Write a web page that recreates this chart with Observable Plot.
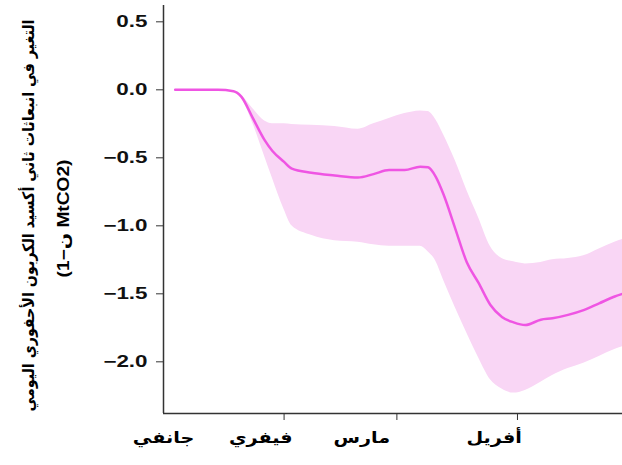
<!DOCTYPE html>
<html><head><meta charset="utf-8">
<script src="https://cdn.jsdelivr.net/npm/d3@7"></script>
<script src="https://cdn.jsdelivr.net/npm/@observablehq/plot@0.6"></script>
<style>html,body{margin:0;padding:0;background:#fff;} svg{display:block}</style>
</head><body><div id="chart"></div>
<script>
// Daily fossil CO2 emission change (MtCO2 per day), mean and uncertainty band
const dates = ["2020-01-04","2020-01-10","2020-01-15","2020-01-19","2020-01-21","2020-01-24","2020-01-27","2020-01-29",
  "2020-02-01","2020-02-03","2020-02-08","2020-02-14","2020-02-20","2020-02-24","2020-02-28",
  "2020-03-03","2020-03-07","2020-03-09","2020-03-11","2020-03-13","2020-03-16","2020-03-19","2020-03-22","2020-03-25","2020-03-28","2020-03-31",
  "2020-04-03","2020-04-07","2020-04-10","2020-04-14","2020-04-18","2020-04-22","2020-04-26","2020-04-28"];
const meanValues = [0, 0, 0, -0.01, -0.05, -0.21, -0.37, -0.45,
  -0.53, -0.58, -0.61, -0.63, -0.645, -0.62, -0.59,
  -0.59, -0.565, -0.57, -0.64, -0.77, -1.02, -1.27, -1.42, -1.58, -1.67, -1.71,
  -1.73, -1.69, -1.68, -1.655, -1.62, -1.57, -1.52, -1.50];
const lowerValues = [0, 0, 0, -0.01, -0.06, -0.25, -0.49, -0.65,
  -0.88, -1.0, -1.07, -1.11, -1.12, -1.14, -1.15,
  -1.15, -1.15, -1.19, -1.26, -1.40, -1.60, -1.79, -1.97, -2.13, -2.20, -2.23,
  -2.21, -2.15, -2.10, -2.05, -2.01, -1.96, -1.91, -1.89];
const upperValues = [0, 0, 0, -0.01, -0.04, -0.14, -0.23, -0.25,
  -0.25, -0.255, -0.26, -0.27, -0.29, -0.25, -0.21,
  -0.175, -0.155, -0.16, -0.22, -0.33, -0.52, -0.74, -0.94, -1.15, -1.24, -1.265,
  -1.28, -1.27, -1.25, -1.24, -1.22, -1.17, -1.12, -1.10];

const yTicks = [0.5, 0, -0.5, -1, -1.5, -2];
const xTickDates = ["2020-02-01", "2020-03-01", "2020-04-01"];
const monthLabels = ["جانفي", "فيفري", "مارس", "أفريل"];
const monthLabelDates = ["2020-01-01", "2020-01-26", "2020-02-21", "2020-03-26"];
const xDomain = ["2020-01-01", "2020-04-28"];
const yDomain = [-2.38, 0.62];
const yTitleLines = ["التغير في انبعاثات ثاني أكسيد الكربون الأحفوري اليومي", "(1−ن MtCO2)"];

const data = dates.map((d, i) => ({date: new Date(d), mean: meanValues[i], lo: lowerValues[i], hi: upperValues[i]}));
const toDate = (d) => new Date(d);

const chart = Plot.plot({
  width: 622, height: 465,
  marginLeft: 163, marginRight: 0, marginTop: 5, marginBottom: 52,
  style: {fontFamily: "'Liberation Sans', 'DejaVu Sans', sans-serif", fontSize: "16px", color: "#000", background: "#fff"},
  x: {type: "utc", domain: xDomain.map(toDate)},
  y: {domain: yDomain},
  marks: [
    Plot.areaY(data, {x: "date", y1: "lo", y2: "hi", fill: "#f9d6f5", curve: "monotone-x"}),
    Plot.lineY(data, {x: "date", y: "mean", stroke: "#ef55e3", strokeWidth: 2.5, curve: "monotone-x"}),
    Plot.ruleX([toDate(xDomain[0])], {y1: yDomain[0], y2: yDomain[1], stroke: "#333", strokeWidth: 1.5}),
    Plot.ruleY([yDomain[0]], {stroke: "#333", strokeWidth: 1.5}),
    Plot.axisY({ticks: yTicks, tickSize: 7, tickPadding: 9, tickFormat: d3.format(".1f"), label: null, stroke: "#333", fontSize: 16, fontWeight: "bold", fill: "#111"}),
    Plot.axisX({ticks: xTickDates.map(toDate), tickSize: 7, tickFormat: () => "", label: null, stroke: "#333"}),
    Plot.text(monthLabels, {x: (d, i) => toDate(monthLabelDates[i]), frameAnchor: "bottom", dy: 29, fontWeight: "bold", fontSize: 16, fontFamily: "'DejaVu Sans', sans-serif"}),
    Plot.text([yTitleLines[0]], {frameAnchor: "left", textAnchor: "middle", rotate: -90, dx: -135, dy: 6, fontSize: 16, fontWeight: "bold", fontFamily: "'DejaVu Sans', sans-serif"}),
    Plot.text([yTitleLines[1]], {frameAnchor: "left", textAnchor: "middle", rotate: -90, dx: -100, dy: 9, fontSize: 16, fontWeight: "bold", fontFamily: "'Liberation Sans', 'DejaVu Sans', sans-serif"})
  ]
});
document.getElementById("chart").append(chart);

// The reference's texts are drawn horizontally widened
const widen = (sel, k) => chart.querySelectorAll(sel).forEach((t) => {
  t.setAttribute("transform", (t.getAttribute("transform") || "") + ` scale(${k},1)`);
});
widen('g[aria-label="y-axis tick label"] text', 1.4);
const textGroups = chart.querySelectorAll('g[aria-label="text"]');
textGroups[0].querySelectorAll("text").forEach((t) => {
  t.setAttribute("transform", (t.getAttribute("transform") || "") + " scale(1.2,1)");
});
const fit = (g, len) => g.querySelectorAll("text").forEach((t) => {
  t.setAttribute("textLength", len);
  t.setAttribute("lengthAdjust", "spacingAndGlyphs");
});
fit(textGroups[1], 392);
fit(textGroups[2], 118);
</script>
</body></html>
